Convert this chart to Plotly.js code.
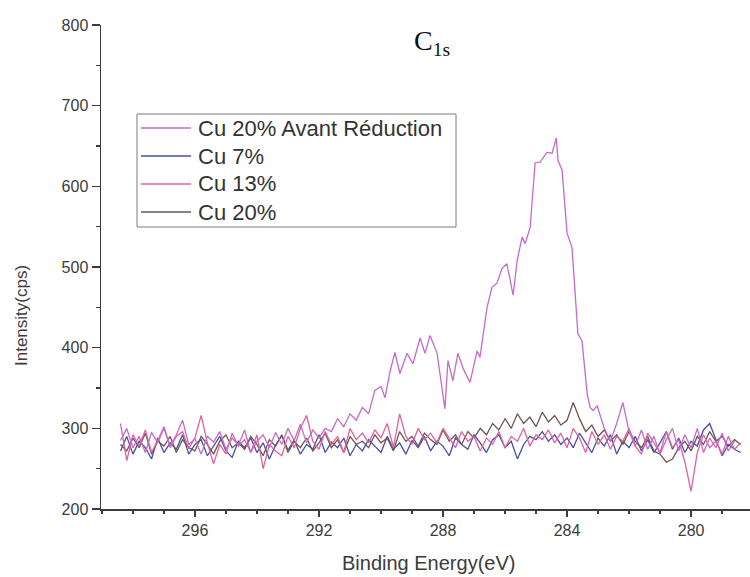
<!DOCTYPE html>
<html>
<head>
<meta charset="utf-8">
<script src="https://cdn.plot.ly/plotly-3.0.1.min.js"></script>
<style>
html, body { margin: 0; padding: 0; background: #fff; }
#chart { width: 750px; height: 577px; }
</style>
</head>
<body>
<div id="chart"></div>
<script>
// Binding energy (eV) and intensity (cps)
const mainEnergy = [298.4, 298.2, 298.0, 297.8, 297.6, 297.4, 297.2, 297.0, 296.8, 296.6, 296.4, 296.2, 296.0, 295.8, 295.6, 295.4, 295.2, 295.0, 294.8, 294.6, 294.4, 294.2, 294.0, 293.8, 293.6, 293.4, 293.2, 293.0, 292.8, 292.6, 292.4, 292.2, 292.0, 291.8, 291.6, 291.4, 291.2, 291.0, 290.8, 290.6, 290.4, 290.2, 290.0,
  289.87, 289.7, 289.55, 289.39, 289.16, 288.97, 288.74, 288.58, 288.42, 288.19, 287.94, 287.84, 287.68, 287.52, 287.35, 287.13, 286.90, 286.81, 286.58, 286.42, 286.26, 286.10, 285.94, 285.74, 285.61, 285.45, 285.35, 285.19, 285.03, 284.87, 284.65, 284.48, 284.35, 284.29, 284.16, 284.00, 283.84, 283.65, 283.52, 283.35, 283.26, 283.16, 283.03,
  282.8, 282.6, 282.4, 282.2, 282.0, 281.8, 281.6, 281.4, 281.2, 281.0, 280.8, 280.6, 280.4, 280.2, 280.0, 279.8, 279.6, 279.4, 279.2, 279.0, 278.8, 278.6];
const cu20AvantReduction = [285, 300, 276, 290, 270, 295, 282, 300, 278, 292, 310, 280, 287, 268, 290, 283, 296, 274, 288, 279, 298, 270, 284, 292, 276, 295, 280, 300, 285, 305, 282, 298, 288, 300, 296, 312, 302, 318, 310, 326, 318, 347, 352,
  338, 372, 394, 368, 393, 380, 412, 393, 415, 393, 324, 384, 359, 393, 374, 357, 396, 388, 450, 475, 480, 498, 504, 465, 508, 537, 529, 549, 629, 630, 642, 641, 660, 632, 620, 542, 524, 417, 409, 343, 326, 322, 328,
  300, 284, 306, 332, 296, 278, 298, 274, 290, 268, 286, 300, 272, 292, 276, 300, 270, 288, 276, 294, 272, 284];

const energy = [298.4, 298.2, 298.0, 297.8, 297.6, 297.4, 297.2, 297.0, 296.8, 296.6, 296.4, 296.2, 296.0, 295.8, 295.6, 295.4, 295.2, 295.0, 294.8, 294.6, 294.4, 294.2, 294.0, 293.8, 293.6, 293.4, 293.2, 293.0, 292.8, 292.6, 292.4, 292.2, 292.0, 291.8, 291.6, 291.4, 291.2, 291.0, 290.8, 290.6, 290.4, 290.2, 290.0, 289.8, 289.6, 289.4, 289.2, 289.0, 288.8, 288.6, 288.4, 288.2, 288.0, 287.8, 287.6, 287.4, 287.2, 287.0, 286.8, 286.6, 286.4, 286.2, 286.0, 285.8, 285.6, 285.4, 285.2, 285.0, 284.8, 284.6, 284.4, 284.2, 284.0, 283.8, 283.6, 283.4, 283.2, 283.0, 282.8, 282.6, 282.4, 282.2, 282.0, 281.8, 281.6, 281.4, 281.2, 281.0, 280.8, 280.6, 280.4, 280.2, 280.0, 279.8, 279.6, 279.4, 279.2, 279.0, 278.8, 278.6, 278.4];
const cu7 = [272, 290, 268, 284, 276, 262, 288, 270, 282, 274,
  292, 268, 280, 286, 266, 278, 290, 272, 264, 284,
  276, 288, 270, 282, 262, 279, 291, 273, 285, 268,
  280, 274, 292, 270, 283, 276, 288, 266, 280, 272,
  286, 278, 270, 290, 274, 282, 268, 285, 276, 290,
  272, 284, 278, 266, 288, 280, 274, 292, 282, 270,
  286, 292, 276, 284, 262, 280, 290, 286, 296, 284,
  292, 280, 288, 276, 294, 282, 270, 288, 278, 292,
  268, 284, 276, 290, 272, 286, 270, 282, 296, 274,
  288, 270, 284, 278, 298, 306, 286, 266, 280, 274, 270];
const cu13 = [306, 260, 292, 278, 298, 270, 285, 302, 276, 290,
  296, 275, 288, 316, 282, 256, 280, 268, 294, 278,
  286, 270, 292, 250, 280, 272, 266, 290, 276, 300,
  316, 284, 274, 296, 280, 290, 270, 300, 286, 294,
  282, 298, 288, 306, 276, 318, 290, 280, 300, 286,
  294, 282, 300, 288, 276, 296, 284, 290, 272, 288,
  280, 296, 276, 290, 284, 300, 278, 292, 286, 298,
  282, 294, 276, 300, 288, 270, 296, 280, 292, 274,
  290, 284, 300, 278, 268, 294, 282, 270, 296, 276,
  286, 258, 222, 270, 292, 276, 284, 268, 290, 274, 282];
const cu20 = [280, 272, 288, 276, 294, 268, 284, 278, 290, 270,
  286, 276, 272, 290, 280, 268, 284, 292, 276, 282,
  274, 290, 280, 266, 286, 278, 292, 270, 284, 276,
  288, 272, 282, 294, 276, 286, 270, 290, 280, 284,
  276, 292, 282, 288, 272, 296, 284, 290, 278, 294,
  286, 280, 298, 284, 292, 280, 296, 288, 300, 292,
  306, 298, 312, 300, 318, 306, 314, 302, 320, 308,
  316, 304, 310, 332, 312, 296, 304, 290, 298, 284,
  292, 280, 296, 284, 276, 290, 272, 268, 258, 262,
  276, 284, 272, 290, 280, 296, 284, 290, 278, 286, 280];

const seriesNames = ['Cu 20% Avant Réduction', 'Cu 7%', 'Cu 13%', 'Cu 20%'];
const xTickVals = [296, 292, 288, 284, 280];
const yTickVals = [200, 300, 400, 500, 600, 700, 800];

// ---- styling / layout (not data) ----
const W = 750, H = 577;
const L = 101, R = 0, T = 25, B = 68;
const PW = W - L - R, PH = H - T - B;
const px2x = px => (px - L) / PW;          // pixel -> paper x
const py2y = py => (H - B - py) / PH;      // pixel -> paper y

const seriesColors = ['#c46bcc', '#4a4ea6', '#e0629e', '#6e5650'];
const lineW = 1.3;
const sans = 'Liberation Sans, Arial, sans-serif';
const axisColor = '#3c3c3c';

const traces = [
  { x: energy, y: cu7, name: seriesNames[1], line: { color: seriesColors[1], width: lineW } },
  { x: energy, y: cu20, name: seriesNames[3], line: { color: seriesColors[3], width: lineW } },
  { x: energy, y: cu13, name: seriesNames[2], line: { color: seriesColors[2], width: lineW } },
  { x: mainEnergy, y: cu20AvantReduction, name: seriesNames[0], line: { color: seriesColors[0], width: lineW } }
].map(t => Object.assign({ type: 'scatter', mode: 'lines', showlegend: false }, t));

// Origin-style legend box drawn with shapes + annotations
const legBox = { x0: 137, x1: 456, y0: 114, y1: 227 };
const legRow0 = 128, legRowStep = 28;
const shapes = [
  { type: 'rect', xref: 'paper', yref: 'paper', layer: 'above',
    x0: px2x(legBox.x0), x1: px2x(legBox.x1), y0: py2y(legBox.y0), y1: py2y(legBox.y1),
    line: { color: '#7a7a7a', width: 1 }, fillcolor: '#ffffff' }
];
const annotations = [];
seriesNames.forEach((name, i) => {
  const py = legRow0 + legRowStep * i;
  shapes.push({ type: 'line', xref: 'paper', yref: 'paper', layer: 'above',
    x0: px2x(141), x1: px2x(191), y0: py2y(py), y1: py2y(py),
    line: { color: seriesColors[i], width: 1.3 } });
  annotations.push({ xref: 'paper', yref: 'paper', x: px2x(196), y: py2y(py),
    xanchor: 'left', yanchor: 'middle', showarrow: false, text: name,
    font: { family: sans, size: 22, color: '#333333' } });
});

annotations.push(
  { xref: 'paper', yref: 'paper', x: px2x(432), y: py2y(43),
    xanchor: 'center', yanchor: 'middle', showarrow: false,
    text: 'C<sub>1s</sub>', font: { family: 'Liberation Serif, Times New Roman, serif', size: 28, color: '#111111' } },
  { xref: 'paper', yref: 'paper', x: px2x(21), y: py2y(316),
    xanchor: 'center', yanchor: 'middle', showarrow: false, textangle: -90,
    text: 'Intensity(cps)', font: { family: sans, size: 17, color: '#3c3c3c' } },
  { xref: 'paper', yref: 'paper', x: px2x(428), y: py2y(563),
    xanchor: 'center', yanchor: 'middle', showarrow: false,
    text: 'Binding Energy(eV)', font: { family: sans, size: 20, color: '#3c3c3c' } }
);

const tickFont = { family: sans, size: 16, color: '#3c3c3c' };

const layout = {
  width: W, height: H,
  margin: { l: L, r: R, t: T, b: B, pad: 0 },
  paper_bgcolor: '#ffffff',
  plot_bgcolor: '#ffffff',
  showlegend: false,
  xaxis: {
    range: [299.03, 278.1], autorange: false,
    showline: true, linecolor: axisColor, linewidth: 1.5,
    ticks: 'outside', ticklen: 6, tickwidth: 1.3, tickcolor: axisColor,
    tickvals: xTickVals, ticktext: xTickVals.map(String),
    tickfont: tickFont,
    minor: { dtick: 1, tick0: 296, ticks: 'outside', ticklen: 3, tickwidth: 1.3, tickcolor: axisColor, showgrid: false },
    showgrid: false, zeroline: false
  },
  yaxis: {
    range: [200, 800], autorange: false,
    showline: true, linecolor: axisColor, linewidth: 1.5,
    ticks: 'outside', ticklen: 8, tickwidth: 1.3, tickcolor: axisColor,
    tickvals: yTickVals, ticktext: yTickVals.map(String),
    tickfont: tickFont,
    minor: { dtick: 50, tick0: 200, ticks: 'outside', ticklen: 4, tickwidth: 1.3, tickcolor: axisColor, showgrid: false },
    showgrid: false, zeroline: false
  },
  shapes: shapes,
  annotations: annotations
};

Plotly.newPlot('chart', traces, layout, { staticPlot: true, displayModeBar: false });
</script>
</body>
</html>
